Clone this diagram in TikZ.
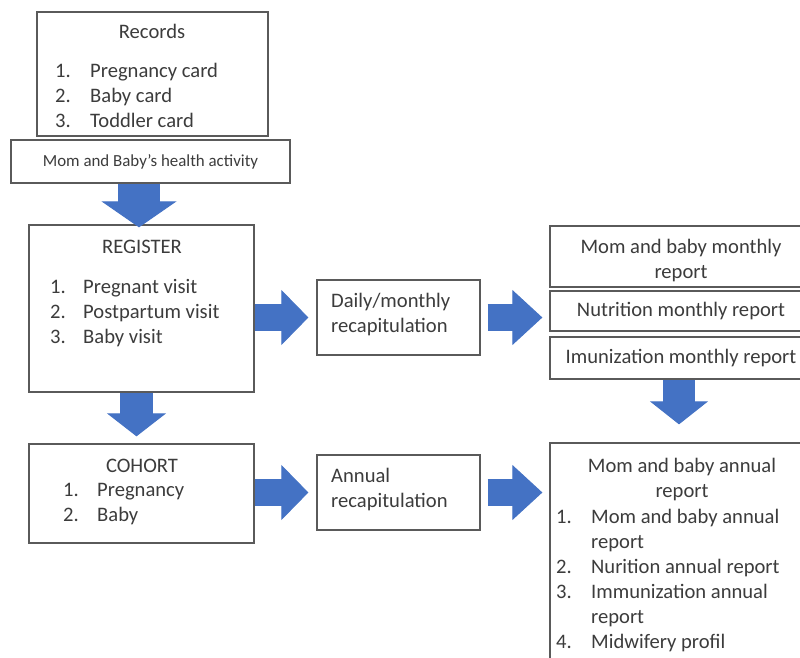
\documentclass[tikz,border=0pt]{standalone}
\usepackage{fontspec}
\setmainfont{Carlito}
\usetikzlibrary{arrows.meta}

\definecolor{boxgray}{RGB}{90,90,90}
\definecolor{textgray}{RGB}{60,60,60}
\definecolor{arrowblue}{RGB}{68,114,196}

\tikzset{
  box/.style={draw=boxgray, line width=1.3pt, fill=white, inner sep=0pt, text=textgray,
    font=\fontsize{20.6}{25}\selectfont, align=center},
  txt/.style={inner sep=0pt, text=textgray, font=\fontsize{20.6}{25}\selectfont},
  fat/.style n args={3}{draw=arrowblue, line width=#1pt,
    -{Triangle[width=#2pt, length=#3pt, line width=1pt]}},
}

\begin{document}
\begin{tikzpicture}[x=1pt, y=-1pt]
    \useasboundingbox (0,0) rectangle (800,658);
    \clip (0,0) rectangle (800,658);

    % Records and activity
    \node[box, minimum width=231pt, minimum height=124pt] (rec) at (152.5,74) {};
    \node[txt, anchor=base] (rectitle) at (152,39) {Records};
    \node[txt, anchor=base west] (reclist) at (55,78)
      {\begin{tabular}[t]{@{}p{35pt}@{}l@{}}1.&Pregnancy card\\2.&Baby card\\3.&Toddler card\end{tabular}};
    \node[box, minimum width=279pt, minimum height=43pt, font=\fontsize{16.9}{20}\selectfont] (act) at (150.5,161.5)
      {Mom and Baby’s health activity};

    % Register and cohort
    \node[box, minimum width=225pt, minimum height=167pt] (reg) at (141.5,308.5) {};
    \node[txt, anchor=base] (regtitle) at (142,253) {REGISTER};
    \node[txt, anchor=base west] (reglist) at (50,293)
      {\begin{tabular}[t]{@{}p{33pt}@{}l@{}}1.&Pregnant visit\\2.&Postpartum visit\\3.&Baby visit\end{tabular}};
    \node[box, minimum width=225pt, minimum height=99pt] (coh) at (141.5,493.5) {};
    \node[txt, anchor=base] (cohtitle) at (142,472) {COHORT};
    \node[txt, anchor=base west] (cohlist) at (63,496)
      {\begin{tabular}[t]{@{}p{34pt}@{}l@{}}1.&Pregnancy\\2.&Baby\end{tabular}};

    % Recapitulation
    \node[box, minimum width=163pt, minimum height=75pt] (daily) at (398.5,317.5) {};
    \node[txt, anchor=base west] (dailytxt) at (331,307)
      {\begin{tabular}[t]{@{}l@{}}Daily/monthly\\recapitulation\end{tabular}};
    \node[box, minimum width=163pt, minimum height=75pt] (annual) at (398.5,492.5) {};
    \node[txt, anchor=base west] (annualtxt) at (331,482)
      {\begin{tabular}[t]{@{}l@{}}Annual\\recapitulation\end{tabular}};

    % Monthly reports
    \node[box, minimum width=262pt, minimum height=61pt] (mbm) at (681,256.5) {};
    \node[txt, anchor=base, align=center] (mbmtxt) at (681,253)
      {\begin{tabular}[t]{@{}c@{}}Mom and baby monthly\\report\end{tabular}};
    \node[box, minimum width=262pt, minimum height=40pt] (nut) at (681,311) {Nutrition monthly report};
    \node[box, minimum width=262pt, minimum height=42pt] (imu) at (681,358) {Imunization monthly report};

    % Annual report
    \node[box, minimum width=262pt, minimum height=257pt] (annrep) at (681,571.5) {};
    \node[txt, anchor=base] (annreptitle) at (682,472)
      {\begin{tabular}[t]{@{}c@{}}Mom and baby annual\\report\end{tabular}};
    \node[txt, anchor=base west] (annreplist) at (556,523)
      {\begin{tabular}[t]{@{}p{35pt}@{}l@{}}1.&Mom and baby annual\\&report\\2.&Nurition annual report\\
       3.&Immunization annual\\&report\\4.&Midwifery profil\end{tabular}};

    % Block arrows
    \draw[fat={42}{75}{26}, shorten >=-3pt] ([xshift=-2.5pt]act.south -| reg.north) -- ([xshift=-2.5pt]reg.north);
    \draw[fat={33}{59}{23}, shorten >=7pt] ([xshift=-5pt]reg.south) -- ([xshift=-5pt]coh.north);
    \draw[fat={32}{58}{23}, shorten >=18pt] ([xshift=-2pt]imu.south) -- ([xshift=-2pt]annrep.north);
    \draw[fat={27}{55}{27}, shorten >=8pt] (reg.east |- daily.west) -- (daily.west);
    \draw[fat={27}{55}{30}, shorten <=7pt, shorten >=7pt] (daily.east) -- (daily.east -| nut.west);
    \draw[fat={27}{55}{27}, shorten >=8pt] (coh.east |- annual.west) -- (annual.west);
    \draw[fat={27}{55}{30}, shorten <=7pt, shorten >=7pt] (annual.east) -- (annual.east -| annrep.west);
\end{tikzpicture}
\end{document}
